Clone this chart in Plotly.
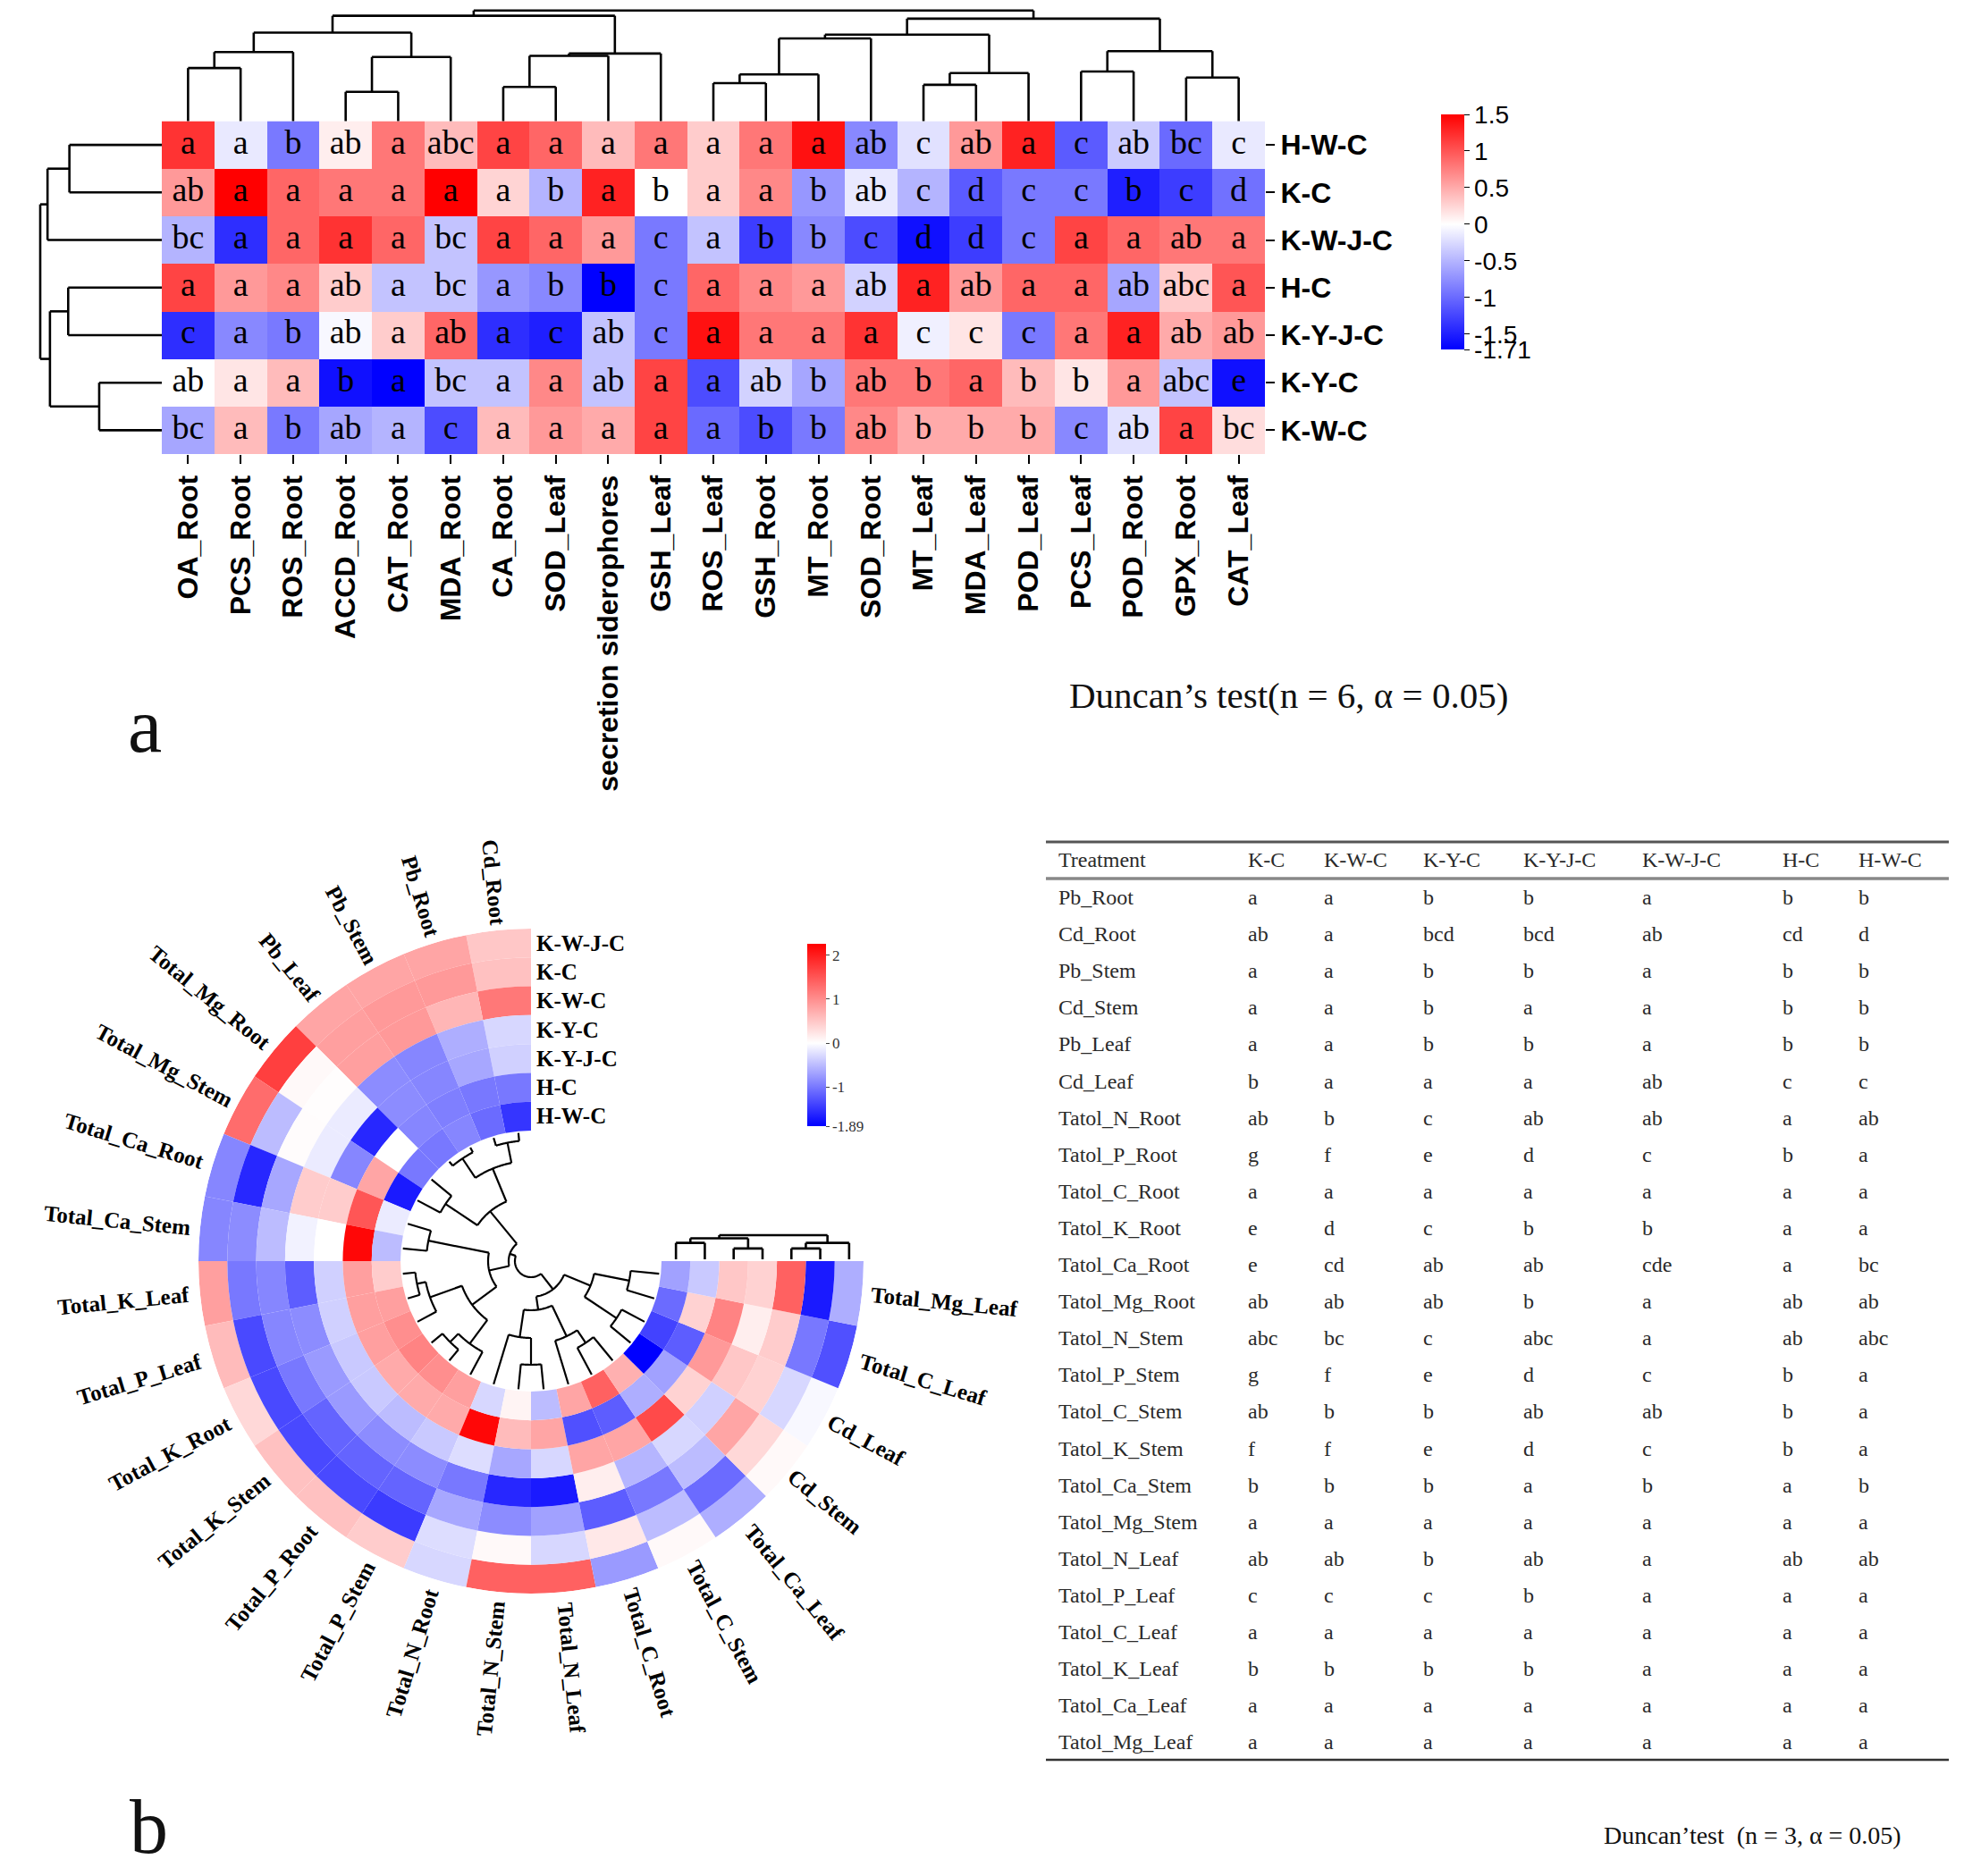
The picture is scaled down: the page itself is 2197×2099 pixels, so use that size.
import numpy as np
import plotly.graph_objects as go

W, H = 2197, 2099
OFF = 8  # default page margin around the plot div
FW, FH = W - 2 * OFF, H - 2 * OFF

# ---------------- panel a : clustered heatmap ----------------
cols_a = ["OA_Root", "PCS_Root", "ROS_Root", "ACCD_Root", "CAT_Root", "MDA_Root", "CA_Root",
          "SOD_Leaf", "secretion siderophores", "GSH_Leaf", "ROS_Leaf", "GSH_Root", "MT_Root",
          "SOD_Root", "MT_Leaf", "MDA_Leaf", "POD_Leaf", "PCS_Leaf", "POD_Root", "GPX_Root", "CAT_Leaf"]
rows_a = ["H-W-C", "K-C", "K-W-J-C", "H-C", "K-Y-J-C", "K-Y-C", "K-W-C"]

z_hwc = [1.2, -0.15, -0.9, 0.1, 0.8, 0.4, 1.1, 0.9, 0.4, 0.8, 0.3, 0.8, 1.4, -0.8, -0.2, 0.6, 1.3, -1.1, -0.35, -1.0, -0.15]
z_kc = [0.6, 1.5, 0.9, 0.8, 0.8, 1.5, 0.25, -0.5, 1.3, 0.0, 0.3, 0.7, -0.7, -0.15, -0.5, -1.1, -0.9, -0.9, -1.5, -1.3, -0.95]
z_kwjc = [-0.5, -1.4, 0.9, 1.2, 0.9, -0.4, 1.1, 0.9, 0.6, -0.9, -0.4, -1.3, -0.8, -1.2, -1.6, -1.3, -0.9, 1.1, 0.9, 0.8, 0.8]
z_hc = [1.1, 0.6, 0.7, 0.3, -0.4, -0.4, -0.7, -0.8, -1.7, -0.9, 0.9, 0.7, 0.6, -0.3, 1.3, 0.6, 0.9, 0.9, -0.6, 0.3, 1.0]
z_kyjc = [-1.4, -0.8, -0.9, -0.05, 0.3, 0.9, -1.4, -1.5, -0.4, -0.9, 1.4, 0.8, 0.8, 1.2, -0.1, 0.15, -0.9, 0.8, 1.3, 0.5, 0.6]
z_kyc = [0.0, 0.15, 0.4, -1.6, -1.7, -0.4, -0.4, 0.7, -0.4, 1.1, -1.2, -0.3, -0.6, 0.8, 0.8, 0.9, 0.4, 0.15, 0.6, -0.4, -1.6]
z_kwc = [-0.6, 0.4, -0.9, -0.6, -0.5, -1.2, 0.4, 0.6, 0.5, 1.1, -1.0, -1.2, -0.9, 0.7, 0.5, 0.5, 0.5, -0.8, -0.2, 1.1, 0.2]
z_a = [z_hwc, z_kc, z_kwjc, z_hc, z_kyjc, z_kyc, z_kwc]

let_hwc = "a a b ab a abc a a a a a a a ab c ab a c ab bc c".split()
let_kc = "ab a a a a a a b a b a a b ab c d c c b c d".split()
let_kwjc = "bc a a a a bc a a a c a b b c d d c a a ab a".split()
let_hc = "a a a ab a bc a b b c a a a ab a ab a a ab abc a".split()
let_kyjc = "c a b ab a ab a c ab c a a a a c c c a a ab ab".split()
let_kyc = "ab a a b a bc a a ab a a ab b ab b a b b a abc e".split()
let_kwc = "bc a b ab a c a a a a a b b ab b b b c ab a bc".split()
letters_a = [let_hwc, let_kc, let_kwjc, let_hc, let_kyjc, let_kyc, let_kwc]

# dendrogram merges: (child, child, height 0..1), new nodes numbered after leaves
col_links = [(0, 1, 0.475), (21, 2, 0.618), (3, 4, 0.262), (23, 5, 0.574), (22, 24, 0.792),
             (6, 7, 0.306), (26, 8, 0.584), (27, 9, 0.605), (25, 28, 0.943),
             (10, 11, 0.34), (30, 12, 0.418), (31, 13, 0.74), (14, 15, 0.325), (33, 16, 0.43),
             (32, 34, 0.774), (17, 18, 0.444), (19, 20, 0.39), (36, 37, 0.626), (35, 38, 0.917),
             (29, 39, 0.99)]
row_links = [(0, 1, 0.76), (7, 2, 0.94), (3, 4, 0.77), (5, 6, 0.515), (9, 10, 0.92), (8, 11, 1.0)]

# ---------------- panel b : circular heatmap ----------------
vars_b = ["Cd_Root", "Pb_Root", "Pb_Stem", "Pb_Leaf", "Total_Mg_Root", "Total_Mg_Stem",
          "Total_Ca_Root", "Total_Ca_Stem", "Total_K_Leaf", "Total_P_Leaf", "Total_K_Root",
          "Total_K_Stem", "Total_P_Root", "Total_P_Stem", "Total_N_Root", "Total_N_Stem",
          "Total_N_Leaf", "Total_C_Root", "Total_C_Stem", "Total_Ca_Leaf", "Cd_Stem", "Cd_Leaf",
          "Total_C_Leaf", "Total_Mg_Leaf"]
rings_b = ["K-W-J-C", "K-C", "K-W-C", "K-Y-C", "K-Y-J-C", "H-C", "H-W-C"]

zb_kwjc = [0.5, 0.8, 0.8, 0.8, 1.7, 1.3, -0.9, -0.9, 0.85, 0.6, 0.35, 0.55, 0.55, 0.45, -0.3, 1.4, 1.4, -0.75, 0.05, -0.6, 0.05, -0.05, -1.3, -0.6]
zb_kc = [0.55, 0.9, 0.9, 0.85, 0.05, -0.5, -1.6, -0.85, -1.0, -1.35, -1.35, -1.35, -1.35, -1.45, -0.25, 0.05, -0.3, 0.2, -0.5, -1.1, 0.35, -0.3, -1.0, -1.7]
zb_kwc = [1.2, 0.65, 0.9, 0.85, 0.02, 0.03, -0.65, -0.5, -0.9, -0.9, -1.0, -1.15, -1.15, -1.15, -0.65, -0.85, -0.7, -1.2, -1.0, -0.5, 0.8, 0.4, 0.45, 1.4]
zb_kyc = [-0.3, -0.6, -0.9, -0.85, -0.15, -0.15, 0.45, -0.1, -1.2, -0.85, -0.75, -0.75, -0.85, -0.85, -1.0, -1.6, -1.7, 0.15, -0.55, -0.3, -0.35, 0.5, 0.15, 0.4]
zb_kyjc = [-0.35, -0.65, -0.9, -0.85, -1.6, -0.9, 0.45, 0.0, -0.35, -0.35, -0.4, -0.4, -0.5, -0.4, -0.25, -0.65, -0.3, 0.8, 0.8, 1.6, 0.4, 0.9, 1.1, 0.5]
zb_hc = [-1.0, -1.0, -0.95, -0.9, 0.0, 0.8, 1.5, 2.2, 0.85, 0.85, 0.85, 0.75, 0.75, 0.75, 2.2, 0.6, 0.8, -1.3, -1.2, -0.6, -0.7, -1.2, 0.4, -0.4]
zb_hwc = [-1.5, -1.1, -0.9, -1.0, -1.0, -1.7, -0.15, -0.5, 0.45, 0.85, 1.0, 1.1, 1.0, 0.85, -0.3, 0.1, -0.5, 0.8, 1.4, 0.7, -1.89, -1.4, -1.1, -0.7]
z_b = [zb_kwjc, zb_kc, zb_kwc, zb_kyc, zb_kyjc, zb_hc, zb_hwc]

# sector dendrogram merges: (child, child, radius in px)
sector_links = [(0, 1, 135), (2, 3, 138), (24, 25, 112), (4, 5, 115), (26, 27, 72),
                (6, 7, 117), (8, 9, 130), (30, 10, 120), (11, 12, 128), (32, 13, 115),
                (31, 33, 82), (29, 34, 48), (28, 35, 25),
                (15, 16, 116), (14, 37, 86), (18, 19, 110), (17, 39, 93), (38, 40, 55),
                (20, 21, 115), (22, 23, 112), (42, 43, 72), (41, 44, 40), (36, 45, 18)]
ring_links = [(6, 5, 0.68), (4, 3, 0.45), (2, 1, 0.45), (9, 0, 0.68), (7, 8, 0.87), (11, 10, 1.0)]

# ---------------- table ----------------
tbl_header = ["Treatment", "K-C", "K-W-C", "K-Y-C", "K-Y-J-C", "K-W-J-C", "H-C", "H-W-C"]
tbl_names = ["Pb_Root", "Cd_Root", "Pb_Stem", "Cd_Stem", "Pb_Leaf", "Cd_Leaf", "Tatol_N_Root",
             "Tatol_P_Root", "Tatol_C_Root", "Tatol_K_Root", "Tatol_Ca_Root", "Tatol_Mg_Root",
             "Tatol_N_Stem", "Tatol_P_Stem", "Tatol_C_Stem", "Tatol_K_Stem", "Tatol_Ca_Stem",
             "Tatol_Mg_Stem", "Tatol_N_Leaf", "Tatol_P_Leaf", "Tatol_C_Leaf", "Tatol_K_Leaf",
             "Tatol_Ca_Leaf", "Tatol_Mg_Leaf"]
tbl_letters = [
    "a a b b a b b", "ab a bcd bcd ab cd d", "a a b b a b b", "a a b a a b b",
    "a a b b a b b", "b a a a ab c c", "ab b c ab ab a ab", "g f e d c b a",
    "a a a a a a a", "e d c b b a a", "e cd ab ab cde a bc", "ab ab ab b a ab ab",
    "abc bc c abc a ab abc", "g f e d c b a", "ab b b ab ab b a", "f f e d c b a",
    "b b b a b a b", "a a a a a a a", "ab ab b ab a ab ab", "c c c b a a a",
    "a a a a a a a", "b b b b a a a", "a a a a a a a", "a a a a a a a"]

# ---------------- geometry (page px) ----------------
hx0, hx1, hy0, hy1 = 181, 1415, 135.5, 508
cw = (hx1 - hx0) / len(cols_a)
rh = (hy1 - hy0) / len(rows_a)
cx, cy = 594, 1411
r_out, r_in = 372, 146
ring_w = (r_out - r_in) / len(rings_b)
sec_w = 270 / len(vars_b)

SERIF = "Liberation Serif"
SANS = "Liberation Sans"

cs_a = [[0, "#0000ff"], [1.71 / 3.21, "#ffffff"], [1, "#ff0000"]]
zmin_b, zmax_b = -1.89, 2.26
cs_b = [[0, "#0000ff"], [-zmin_b / (zmax_b - zmin_b), "#ffffff"], [1, "#ff0000"]]


def px(x, y):
    return (x - OFF) / FW, 1 - (y - OFF) / FH


def dendro(links, leaf_pos, leaf_h=0.0):
    pos = list(leaf_pos)
    hgt = [leaf_h] * len(leaf_pos)
    segs = []
    for a, b, h in links:
        for c in (a, b):
            segs.append(((pos[c], hgt[c]), (pos[c], h)))
        segs.append(((pos[a], h), (pos[b], h)))
        pos.append((pos[a] + pos[b]) / 2)
        hgt.append(h)
    return segs


fig = go.Figure()

# heatmap a
cbx, cby = px(1612, 128)
fig.add_trace(go.Heatmap(
    z=z_a, x=cols_a, y=rows_a, colorscale=cs_a, zmin=-1.71, zmax=1.5, xgap=0, ygap=0,
    hoverinfo="skip",
    colorbar=dict(x=cbx, xanchor="left", y=cby, yanchor="top", len=263, lenmode="pixels",
                  thickness=26, thicknessmode="pixels", xpad=0, ypad=0, outlinewidth=0,
                  tickvals=[1.5, 1, 0.5, 0, -0.5, -1, -1.5, -1.71],
                  ticktext=["1.5", "1", "0.5", "0", "-0.5", "-1", "-1.5", "-1.71"],
                  ticks="outside", ticklen=6, tickcolor="black",
                  tickfont=dict(family=SANS, size=28, color="black"))))

lx, ly, lt = [], [], []
for i, r in enumerate(rows_a):
    for j, c in enumerate(cols_a):
        lx.append(c)
        ly.append(r)
        lt.append(letters_a[i][j])
fig.add_trace(go.Scatter(x=lx, y=ly, text=lt, mode="text", hoverinfo="skip",
                         textfont=dict(family=SERIF, size=38, color="black")))

# dendrograms for a (px overlay)
segx, segy = [], []
for (p0, h0), (p1, h1) in dendro(col_links, [hx0 + (i + 0.5) * cw for i in range(len(cols_a))]):
    segx += [p0, p1, None]
    segy += [hy0 - h0 * 125, hy0 - h1 * 125, None]
for (p0, h0), (p1, h1) in dendro(row_links, [hy0 + (i + 0.5) * rh for i in range(len(rows_a))]):
    segx += [hx0 - h0 * 136, hx0 - h1 * 136, None]
    segy += [p0, p1, None]
ring_mid = [r_out - (k + 0.5) * ring_w for k in range(len(rings_b))]
for (p0, h0), (p1, h1) in dendro(ring_links, [cx + r for r in ring_mid]):
    segx += [p0, p1, None]
    segy += [cy - 2 - h0 * 27, cy - 2 - h1 * 27, None]
fig.add_trace(go.Scatter(x=segx, y=segy, mode="lines", xaxis="x2", yaxis="y2", hoverinfo="skip",
                         line=dict(color="black", width=2.6)))

# circular heatmap b
th, rr, bb, cc = [], [], [], []
for k in range(len(rings_b)):
    for i in range(len(vars_b)):
        th.append(90 + (i + 0.5) * sec_w)
        rr.append(ring_w)
        bb.append(r_out - (k + 1) * ring_w)
        cc.append(z_b[k][i])
cbx2, cby2 = px(903, 1056)
fig.add_trace(go.Barpolar(
    theta=th, r=rr, base=bb, width=sec_w, hoverinfo="skip",
    marker=dict(color=cc, colorscale=cs_b, cmin=zmin_b, cmax=zmax_b, line=dict(width=0),
                showscale=True,
                colorbar=dict(x=cbx2, xanchor="left", y=cby2, yanchor="top", len=204,
                              lenmode="pixels", thickness=21, thicknessmode="pixels", xpad=0,
                              ypad=0, outlinewidth=0, tickvals=[2, 1, 0, -1, -1.89],
                              ticktext=["2", "1", "0", "-1", "-1.89"], ticks="outside", ticklen=4,
                              tickcolor="#444",
                              tickfont=dict(family=SERIF, size=17, color="#333")))))

# circular dendrogram
pr, pt = [], []
angs = [90 + (i + 0.5) * sec_w for i in range(len(vars_b))]
rads = [144.0] * len(vars_b)
for a, b, r in sector_links:
    for c in (a, b):
        pr += [rads[c], r, None]
        pt += [angs[c], angs[c], None]
    arc = np.linspace(angs[a], angs[b], 40)
    pr += [r] * len(arc) + [None]
    pt += list(arc) + [None]
    angs.append((angs[a] + angs[b]) / 2)
    rads.append(r)
fig.add_trace(go.Scatterpolar(r=pr, theta=pt, mode="lines", hoverinfo="skip",
                              line=dict(color="black", width=2.2)))

annotations = []
# sector labels
for i, name in enumerate(vars_b):
    t = 90 + (i + 0.5) * sec_w
    size = 25
    L = len(name) * 0.52 * size
    r = r_out + 8 + L / 2
    x = cx + r * np.cos(np.radians(t))
    y = cy - r * np.sin(np.radians(t))
    ta = 180 - t if t < 270 else 360 - t
    xp, yp = px(x, y)
    annotations.append(dict(x=xp, y=yp, xref="paper", yref="paper", text="<b>%s</b>" % name,
                            showarrow=False, textangle=ta, xanchor="center", yanchor="middle",
                            font=dict(family=SERIF, size=size, color="black")))
# ring labels
for k, name in enumerate(rings_b):
    xp, yp = px(cx + 4, cy - ring_mid[k])
    annotations.append(dict(x=xp, y=yp, xref="paper", yref="paper", text="<b>%s</b>" % name,
                            showarrow=False, xanchor="left", yanchor="middle",
                            font=dict(family=SERIF, size=25, color="black")))

# table
col_x = [1184, 1396, 1481, 1592, 1704, 1837, 1994, 2079]
row_y0, row_dy = 1006, 41.1
tx, ty, tt = [], [], []
for j, hname in enumerate(tbl_header):
    tx.append(col_x[j])
    ty.append(964)
    tt.append(hname)
for i, name in enumerate(tbl_names):
    vals = [name] + tbl_letters[i].split()
    for j, v in enumerate(vals):
        tx.append(col_x[j])
        ty.append(row_y0 + i * row_dy)
        tt.append(v)
fig.add_trace(go.Scatter(x=tx, y=ty, text=tt, mode="text", textposition="middle right",
                         xaxis="x2", yaxis="y2", hoverinfo="skip",
                         textfont=dict(family=SERIF, size=24, color="#2a2a2a")))

shapes = []
for yy, wd, col in [(942, 3, "#555"), (983, 3.5, "#888"), (1969, 2.5, "#333")]:
    shapes.append(dict(type="line", xref="x2", yref="y2", x0=1170, x1=2180, y0=yy, y1=yy,
                       line=dict(color=col, width=wd)))

for txt, x, y, size in [("a", 162, 812, 86), ("b", 166, 2044, 86),
                        ("Duncan\u2019s test(n = 6, \u03b1 = 0.05)", 1441, 778, 41),
                        ("Duncan\u2019test  (n = 3, \u03b1 = 0.05)", 1960, 2053, 28)]:
    xp, yp = px(x, y)
    annotations.append(dict(x=xp, y=yp, xref="paper", yref="paper", text=txt, showarrow=False,
                            xanchor="center", yanchor="middle",
                            font=dict(family=SERIF, size=size, color="#111")))

hxa, hya = px(hx0, hy1)
hxb, hyb = px(hx1, hy0)
pxa, pya = px(cx - r_out, cy + r_out)
pxb, pyb = px(cx + r_out, cy - r_out)

fig.update_layout(
    width=FW, height=FH, margin=dict(l=0, r=0, t=0, b=0, autoexpand=False), showlegend=False,
    paper_bgcolor="white", plot_bgcolor="rgba(0,0,0,0)",
    xaxis=dict(domain=[hxa, hxb], anchor="y", type="category", automargin=False,
               categoryorder="array", categoryarray=cols_a, range=[-0.5, len(cols_a) - 0.5],
               tickvals=cols_a, ticktext=["<b>%s</b>" % c for c in cols_a],
               tickangle=-90, ticks="outside", ticklen=10, tickwidth=2, tickcolor="black",
               tickfont=dict(family=SANS, size=32, color="black"), showgrid=False,
               zeroline=False, showline=False, fixedrange=True),
    yaxis=dict(domain=[hya, hyb], anchor="x", type="category", automargin=False,
               categoryorder="array", categoryarray=rows_a, range=[len(rows_a) - 0.5, -0.5],
               tickvals=rows_a, ticktext=["<b>%s</b>" % r for r in rows_a],
               side="right", ticks="outside", ticklen=10, tickwidth=2, tickcolor="black",
               tickfont=dict(family=SANS, size=32, color="black"), showgrid=False,
               zeroline=False, showline=False, fixedrange=True),
    xaxis2=dict(domain=[0, 1], anchor="y2", range=[OFF, W - OFF], visible=False, fixedrange=True,
                automargin=False),
    yaxis2=dict(domain=[0, 1], anchor="x2", range=[H - OFF, OFF], visible=False, fixedrange=True,
                automargin=False),
    polar=dict(domain=dict(x=[pxa, pxb], y=[pya, pyb]),
               bgcolor="rgba(0,0,0,0)", barmode="overlay", hole=0,
               radialaxis=dict(range=[0, r_out], visible=False),
               angularaxis=dict(visible=False, rotation=0, direction="counterclockwise")),
    annotations=annotations, shapes=shapes)

fig.write_html("out.html")
